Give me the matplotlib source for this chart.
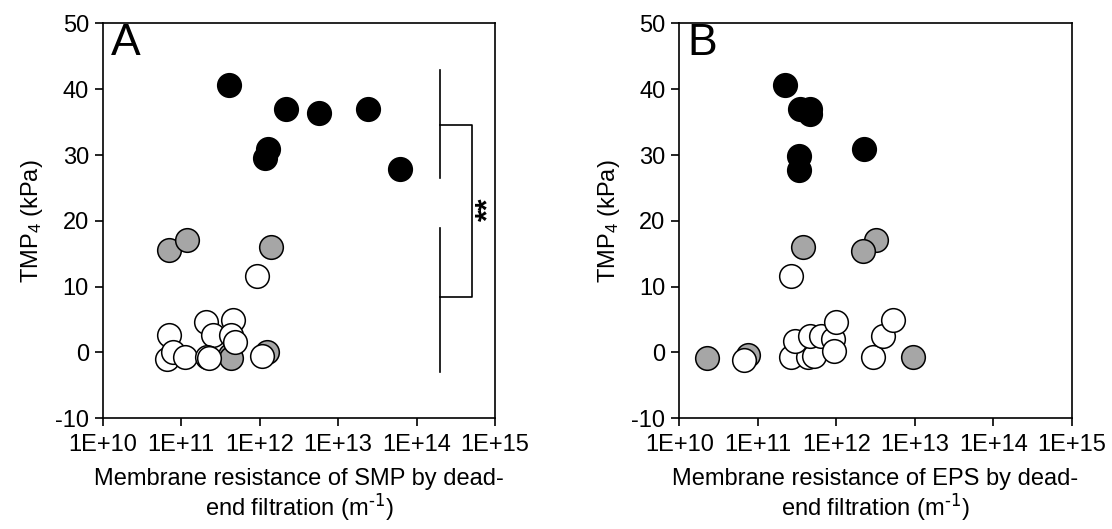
import numpy as np
import matplotlib
matplotlib.use("Agg")
from matplotlib import pyplot as plt

plt.rcParams['font.family'] = ['Liberation Sans', 'DejaVu Sans']
plt.rcParams['mathtext.default'] = 'regular'
plt.rcParams['axes.unicode_minus'] = False

# panel A (SMP) - log10 of resistance, TMP4
a_black_x = [11.61, 12.34, 12.75, 13.38, 12.10, 12.07, 13.79]
a_black_y = [40.6, 37.05, 36.4, 37.05, 30.97, 29.55, 27.9]
a_gray_x = [10.84, 11.07, 12.15, 11.62, 11.64, 12.09]
a_gray_y = [15.56, 17.08, 16.07, -0.35, -0.9, 0.1]
a_white_x = [11.97, 11.32, 11.66, 10.85, 11.41, 11.64, 11.69, 10.82, 10.90, 11.05, 11.33, 11.36, 12.03]
a_white_y = [11.66, 4.6, 5.0, 2.6, 2.7, 2.6, 1.6, -1.0, 0.1, -0.76, -0.76, -0.9, -0.55]

# panel B (EPS)
b_black_x = [11.35, 11.54, 11.67, 11.67, 11.52, 11.53, 12.35]
b_black_y = [40.6, 37.05, 37.05, 36.3, 29.8, 27.8, 31.0]
b_gray_x = [11.58, 12.50, 12.34, 10.35, 10.88, 12.98]
b_gray_y = [16.07, 17.08, 15.46, -0.86, -0.35, -0.71]
b_white_x = [11.42, 10.82, 11.42, 11.64, 11.71, 11.47, 11.67, 11.81, 11.96, 11.99, 11.97, 12.47, 12.60, 12.72]
b_white_y = [11.66, -1.1, -0.7, -0.76, -0.5, 1.67, 2.53, 2.53, 2.0, 4.56, 0.15, -0.7, 2.53, 4.87]

xticks = [1e10, 1e11, 1e12, 1e13, 1e14, 1e15]
xticklabels = ['1E+10', '1E+11', '1E+12', '1E+13', '1E+14', '1E+15']
yticks = [-10, 0, 10, 20, 30, 40, 50]

fig = plt.figure(figsize=(11.12, 5.29), dpi=100)
axA = fig.add_axes([0.0924, 0.2093, 0.3528, 0.7463])
axB = fig.add_axes([0.6109, 0.2093, 0.3529, 0.7463])

def draw(ax, bx, by, gx, gy, wx, wy, letter, what):
    ax.scatter(np.power(10.0, gx), gy, s=290, facecolor='#a6a6a6', edgecolor='black', linewidth=1.1, zorder=3)
    ax.scatter(np.power(10.0, wx), wy, s=290, facecolor='white', edgecolor='black', linewidth=1.1, zorder=4)
    ax.scatter(np.power(10.0, bx), by, s=290, facecolor='black', edgecolor='black', linewidth=1.1, zorder=5)
    ax.set_xscale('log')
    ax.set_xlim(1e10, 1e15)
    ax.set_ylim(-10, 50)
    ax.set_xticks(xticks)
    ax.set_xticklabels(xticklabels)
    ax.minorticks_off()
    ax.set_yticks(yticks)
    ax.tick_params(direction='out', length=6, width=1.2, labelsize=17, pad=4)
    ax.tick_params(axis='x', pad=5)
    for sp in ax.spines.values():
        sp.set_linewidth(1.2)
    ax.set_ylabel('TMP$_4$ (kPa)', fontsize=17, labelpad=7)
    ax.set_xlabel('Membrane resistance of %s by dead-\nend filtration (m$^{\\text{-1}}$)' % what,
                  fontsize=17, labelpad=9, linespacing=1.05)
    ax.text(0.02, 1.0, letter, transform=ax.transAxes, fontsize=32, va='top', ha='left')

draw(axA, a_black_x, a_black_y, a_gray_x, a_gray_y, a_white_x, a_white_y, 'A', 'SMP')
draw(axB, b_black_x, b_black_y, b_gray_x, b_gray_y, b_white_x, b_white_y, 'B', 'EPS')

# significance bracket in panel A
xv = 10 ** 14.30
xh = 10 ** 14.71
axA.plot([xv, xv], [42.9, 26.5], color='black', lw=1.2)
axA.plot([xv, xv], [18.9, -3.0], color='black', lw=1.2)
axA.plot([xv, xh, xh, xv], [34.5, 34.5, 8.5, 8.5], color='black', lw=1.2)
axA.text(10 ** 14.93, 21.7, '**', rotation=90, fontsize=22, fontweight='bold', ha='center', va='center')

fig.savefig('out.png', dpi=100)
